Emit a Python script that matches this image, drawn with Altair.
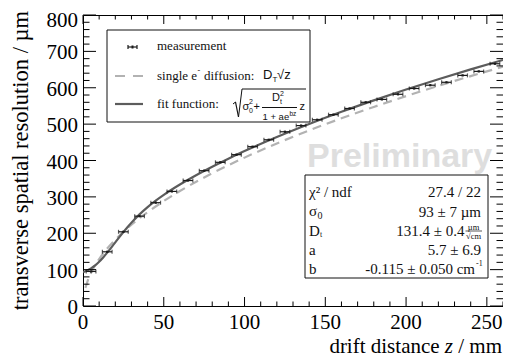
import altair as alt
import pandas as pd

SERIF = "Liberation Serif"
SANS = "Liberation Sans"

# ---------------- data ----------------
z_meas = [5, 15, 25, 35, 45, 55, 65, 75, 85, 95, 105, 115, 125, 135, 145,
          155, 165, 175, 185, 195, 205, 215, 225, 235, 245, 255]
res_meas = [95, 149, 204, 247, 284, 315, 345, 372, 395, 416, 438, 457, 479, 496, 512,
            526, 543, 560, 568, 582, 598, 607, 615, 634, 645, 666]
z_halfwidth = [3] * 26

fit_z = [0, 2.5, 5, 7.5, 10, 12.5, 15, 17.5, 20, 22.5, 25, 27.5, 30, 35, 40, 45, 50,
         55, 60, 70, 80, 90, 100, 120, 140, 160, 180, 200, 220, 240, 260]
fit_res = [93.0, 97.3, 103.4, 111.6, 121.7, 133.5, 146.6, 160.6, 175.0, 189.3, 203.2,
           216.6, 229.2, 252.0, 272.0, 289.7, 305.7, 320.4, 334.1, 359.6, 383.0, 405.0,
           425.8, 464.6, 500.4, 533.8, 565.2, 595.0, 623.3, 650.4, 676.4]

diff_z = [1.5, 3, 5, 7.5, 10, 15, 20, 25, 30, 40, 50, 60, 80, 100, 120, 140, 160,
          180, 200, 220, 240, 260]
diff_res = [50.0, 70.7, 91.2, 111.7, 129.0, 158.0, 182.4, 204.0, 223.4, 258.0, 288.5,
            316.0, 364.9, 407.9, 446.9, 482.7, 516.0, 547.3, 576.9, 605.1, 632.0, 657.8]

x_major = [0, 50, 100, 150, 200, 250]
x_minor = [v for v in range(10, 261, 10) if v % 50 != 0]
y_major = [0, 100, 200, 300, 400, 500, 600, 700, 800]
y_minor = [v for v in range(20, 800, 20) if v % 100 != 0]

W, H = 420, 291
OX, OY = 83, 15  # page position of plot origin (for converting annotation positions)

xs = alt.Scale(domain=[0, 260], nice=False, zero=False)
ys = alt.Scale(domain=[0, 800], nice=False, zero=False)

meas = pd.DataFrame({"z": z_meas, "res": res_meas,
                     "lo": [a - b for a, b in zip(z_meas, z_halfwidth)],
                     "hi": [a + b for a, b in zip(z_meas, z_halfwidth)]})
fit = pd.DataFrame({"z": fit_z, "res": fit_res})
diff = pd.DataFrame({"z": diff_z, "res": diff_res})

DARK = "#1a1a1a"

diff_line = alt.Chart(diff).mark_line(color="#b2b2b2", strokeWidth=2.2, strokeDash=[9, 6],
                                      interpolate="monotone", clip=True).encode(
    x=alt.X("z:Q", scale=xs, axis=None), y=alt.Y("res:Q", scale=ys, axis=None))
fit_line = alt.Chart(fit).mark_line(color="#5c5c5c", strokeWidth=2.2,
                                    interpolate="monotone", clip=True).encode(
    x=alt.X("z:Q", scale=xs, axis=None), y=alt.Y("res:Q", scale=ys, axis=None))
err = alt.Chart(meas).mark_rule(color=DARK, strokeWidth=1.2).encode(
    x=alt.X("lo:Q", scale=xs, axis=None), x2="hi:Q",
    y=alt.Y("res:Q", scale=ys, axis=None))
cap_lo = alt.Chart(meas).mark_tick(color=DARK, orient="vertical", size=4, thickness=1.2).encode(
    x=alt.X("lo:Q", scale=xs, axis=None), y=alt.Y("res:Q", scale=ys, axis=None))
cap_hi = alt.Chart(meas).mark_tick(color=DARK, orient="vertical", size=4, thickness=1.2).encode(
    x=alt.X("hi:Q", scale=xs, axis=None), y=alt.Y("res:Q", scale=ys, axis=None))
centre = alt.Chart(meas).mark_point(shape="square", size=5, filled=True, color=DARK, opacity=1).encode(
    x=alt.X("z:Q", scale=xs, axis=None), y=alt.Y("res:Q", scale=ys, axis=None))


def xticks(vals, length):
    d = pd.DataFrame({"v": vals})
    bot = alt.Chart(d).mark_rule(color="black", strokeWidth=1).encode(
        x=alt.X("v:Q", scale=xs, axis=None), y=alt.value(H), y2=alt.value(H - length))
    top = alt.Chart(d).mark_rule(color="black", strokeWidth=1).encode(
        x=alt.X("v:Q", scale=xs, axis=None), y=alt.value(0), y2=alt.value(length))
    return [bot, top]


def yticks(vals, length):
    d = pd.DataFrame({"v": vals})
    left = alt.Chart(d).mark_rule(color="black", strokeWidth=1).encode(
        y=alt.Y("v:Q", scale=ys, axis=None), x=alt.value(0), x2=alt.value(length))
    right = alt.Chart(d).mark_rule(color="black", strokeWidth=1).encode(
        y=alt.Y("v:Q", scale=ys, axis=None), x=alt.value(W), x2=alt.value(W - length))
    return [left, right]


def txt(s, px, py, size, font=SERIF, align="left", baseline="middle", color="#111",
        angle=0, style="normal", weight="normal"):
    return alt.Chart(pd.DataFrame({"t": [s]})).mark_text(
        font=font, fontSize=size, align=align, baseline=baseline, color=color,
        angle=angle, fontStyle=style, fontWeight=weight).encode(
        text="t:N", x=alt.value(px - OX), y=alt.value(py - OY))


def seg(x1, y1, x2, y2, color="#111", w=1.0, dash=None):
    kw = dict(color=color, strokeWidth=w)
    if dash:
        kw["strokeDash"] = dash
    return alt.Chart(pd.DataFrame({"a": [0]})).mark_rule(**kw).encode(
        x=alt.value(x1 - OX), x2=alt.value(x2 - OX), y=alt.value(y1 - OY), y2=alt.value(y2 - OY))


def box(x1, y1, x2, y2):
    return alt.Chart(pd.DataFrame({"a": [0]})).mark_rect(
        fill="white", stroke="#111", strokeWidth=1).encode(
        x=alt.value(x1 - OX), x2=alt.value(x2 - OX), y=alt.value(y1 - OY), y2=alt.value(y2 - OY))


layers = [diff_line, fit_line, err, cap_lo, cap_hi, centre]
layers += xticks(x_major, 9) + xticks(x_minor, 4.5)
layers += yticks(y_major, 13) + yticks(y_minor, 6.5)

# tick labels (from the tick arrays, placed through the scales)
xl = pd.DataFrame({"v": x_major})
layers.append(alt.Chart(xl).mark_text(font=SERIF, fontSize=21, baseline="top", align="center",
                                      color="#000").encode(
    x=alt.X("v:Q", scale=xs, axis=None), y=alt.value(H + 6), text="v:Q"))
yl_low = pd.DataFrame({"v": [v for v in y_major if v < max(y_major)]})
yl_top = pd.DataFrame({"v": [max(y_major)]})
layers.append(alt.Chart(yl_low).mark_text(font=SERIF, fontSize=21, baseline="middle", align="right",
                                          color="#000", dy=2, dx=-5).encode(
    y=alt.Y("v:Q", scale=ys, axis=None), x=alt.value(0), text="v:Q"))
layers.append(alt.Chart(yl_top).mark_text(font=SERIF, fontSize=21, baseline="middle", align="right",
                                          color="#000", dy=6, dx=-5).encode(
    y=alt.Y("v:Q", scale=ys, axis=None), x=alt.value(0), text="v:Q"))

# watermark
layers.append(txt("Preliminary", 307, 167, 34, font=SANS, baseline="alphabetic",
                  color="#dedede", weight="bold"))

# ----- legend box -----
layers.append(box(107, 30, 310, 122))
# measurement entry
layers += [seg(128, 47, 137, 47, DARK, 1.2), seg(128, 45, 128, 49, DARK, 1.2),
           seg(137, 45, 137, 49, DARK, 1.2), seg(131.5, 47, 133.5, 47, DARK, 3)]
layers.append(txt("measurement", 157, 46, 13))
# single diffusion entry
layers.append(seg(115, 76, 143, 76, "#b2b2b2", 2.2, [10, 8]))
layers.append(txt("single e", 157, 76, 13))
layers.append(txt("-", 197.5, 71, 8))
layers.append(txt("diffusion:", 204, 76, 13))
layers.append(txt("D", 263, 75, 13, font=SANS))
layers.append(txt("T", 272.5, 80, 8, font=SANS))
layers.append(txt("\u221az", 277, 75, 13, font=SANS))
# fit entry
layers.append(seg(115, 104, 143, 104, "#5c5c5c", 2.2))
layers.append(txt("fit function:", 157, 104, 13))
layers += [seg(233, 104, 235.5, 102, "#111", 1), seg(235.5, 102, 238.5, 117, "#111", 1.2),
           seg(238.5, 117, 242, 89, "#111", 1), seg(242, 89, 306, 89, "#111", 1)]
layers.append(txt("\u03c3", 242.5, 107, 11, font=SANS))
layers.append(txt("2", 249, 102, 7, font=SANS))
layers.append(txt("0", 249, 111, 7, font=SANS))
layers.append(txt("+", 253.5, 107, 11, font=SANS))
layers.append(txt("D", 272, 98, 11, font=SANS))
layers.append(txt("2", 280, 94, 7, font=SANS))
layers.append(txt("t", 280, 102, 7, font=SANS))
layers.append(seg(262, 107.5, 297, 107.5, "#111", 1))
layers.append(txt("1 + ae", 262.5, 117, 9.5, font=SANS))
layers.append(txt("bz", 289.5, 113.5, 6.5, font=SANS))
layers.append(txt("z", 299.5, 107, 11, font=SANS))

# ----- fit statistics box -----
layers.append(box(305, 175, 488, 278))
rows_y = [192, 212, 231, 250, 269]
layers.append(txt("\u03c7\u00b2 / ndf", 309, rows_y[0], 15))
layers.append(txt("\u03c3", 309, rows_y[1] - 1, 15))
layers.append(txt("0", 317.5, rows_y[1] + 4, 10))
layers.append(txt("D", 309, rows_y[2], 15))
layers.append(txt("t", 320, rows_y[2] + 4, 8))
layers.append(txt("a", 309, rows_y[3], 15))
layers.append(txt("b", 309, rows_y[4], 15))
layers.append(txt("27.4 / 22", 481, rows_y[0], 15, align="right"))
layers.append(txt("93 \u00b1 7 \u00b5m", 481, rows_y[1], 15, align="right"))
layers.append(txt("131.4 \u00b1 0.4", 464.5, rows_y[2], 15, align="right"))
layers.append(txt("\u00b5m", 473.5, rows_y[2] - 4.5, 8.5, align="center"))
layers.append(seg(465.5, 231, 482, 231, "#111", 0.7))
layers.append(txt("\u221acm", 473.5, rows_y[2] + 4.5, 8.5, align="center"))
layers.append(txt("5.7 \u00b1 6.9", 481, rows_y[3], 15, align="right"))
layers.append(txt("-0.115 \u00b1 0.050 cm", 475, rows_y[4], 15, align="right"))
layers.append(txt("-1", 476, rows_y[4] - 5, 8))

# ----- axis titles -----
layers.append(txt("transverse spatial resolution / \u00b5m", 28, 11, 22.5, align="right",
                  baseline="alphabetic", color="#000", angle=270))
layers.append(txt(" / mm", 502, 353, 21, align="right", baseline="alphabetic", color="#000"))
layers.append(txt("z", 453, 353, 21, align="right", baseline="alphabetic", color="#000",
                  style="italic"))
layers.append(txt("drift distance", 439.6, 353, 21, align="right", baseline="alphabetic",
                  color="#000"))

chart = alt.layer(*layers).properties(
    width=W, height=H,
    autosize=alt.AutoSizeParams(type="none"),
    padding={"left": 75, "top": 7, "right": 0, "bottom": 52},
).configure_view(stroke="black", strokeWidth=1)

chart.save("out.html", embed_options={"renderer": "svg", "actions": False})
